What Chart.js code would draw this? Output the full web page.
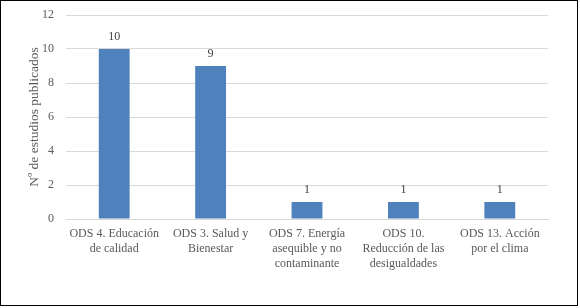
<!DOCTYPE html>
<html>
<head>
<meta charset="utf-8">
<script src="https://cdn.jsdelivr.net/npm/chart.js@4/dist/chart.umd.min.js"></script>
<style>
  html, body { margin: 0; padding: 0; background: #fff; }
  #box { position: absolute; left: 0; top: 0; width: 576px; height: 304px; border: 1px solid #000; }
</style>
</head>
<body>
<div id="box"><canvas id="ods"></canvas></div>
<script>
const categories = [
  ['ODS 4. Educación', 'de calidad'],
  ['ODS 3. Salud y', 'Bienestar'],
  ['ODS 7. Energía', 'asequible y no', 'contaminante'],
  ['ODS 10.', 'Reducción de las', 'desigualdades'],
  ['ODS 13. Acción', 'por el clima']
];
const estudios = [10, 9, 1, 1, 1];
const yTicks = [0, 2, 4, 6, 8, 10, 12];

const serif = "'Liberation Serif', 'Times New Roman', serif";

// etiquetas de valor encima de cada barra
const valueLabels = {
  id: 'valueLabels',
  afterDatasetsDraw(chart) {
    const ctx = chart.ctx;
    const meta = chart.getDatasetMeta(0);
    ctx.save();
    ctx.font = '12px ' + serif;
    ctx.fillStyle = '#404040';
    ctx.textAlign = 'center';
    ctx.textBaseline = 'bottom';
    meta.data.forEach((bar, i) => {
      ctx.fillText(chart.data.datasets[0].data[i], bar.x, bar.y - 6);
    });
    ctx.restore();
  }
};

new Chart('ods', {
  type: 'bar',
  data: {
    labels: categories,
    datasets: [{
      label: 'Nº de estudios publicados',
      data: estudios,
      backgroundColor: '#4f81bd',
      borderWidth: 0,
      categoryPercentage: 1,
      barPercentage: 0.32
    }]
  },
  options: {
    responsive: true,
    maintainAspectRatio: false,
    animation: false,
    layout: { padding: { top: 14, right: 29, left: 0, bottom: 0 } },
    scales: {
      y: {
        min: 0,
        max: 12,
        afterBuildTicks: (scale) => { scale.ticks = yTicks.map(v => ({ value: v })); },
        afterFit: (scale) => { scale.width = 65; },
        border: { display: false },
        grid: { color: '#d9d9d9', tickColor: 'rgba(0,0,0,0)', tickLength: 9, lineWidth: 1 },
        ticks: { padding: 3, color: '#595959', font: { family: serif, size: 12 } },
        title: {
          display: true,
          text: 'Nº de estudios publicados',
          color: '#595959',
          font: { family: serif, size: 13.5 },
          padding: { top: 25, bottom: 0 }
        }
      },
      x: {
        afterFit: (scale) => { scale.height = 86; },
        border: { display: true, color: '#d9d9d9' },
        grid: { display: false, drawTicks: false },
        ticks: { padding: 7, color: '#595959', maxRotation: 0, autoSkip: false, font: { family: serif, size: 12, lineHeight: 1.25 } }
      }
    },
    plugins: {
      legend: { display: false },
      tooltip: { enabled: false }
    }
  },
  plugins: [valueLabels]
});
</script>
</body>
</html>
